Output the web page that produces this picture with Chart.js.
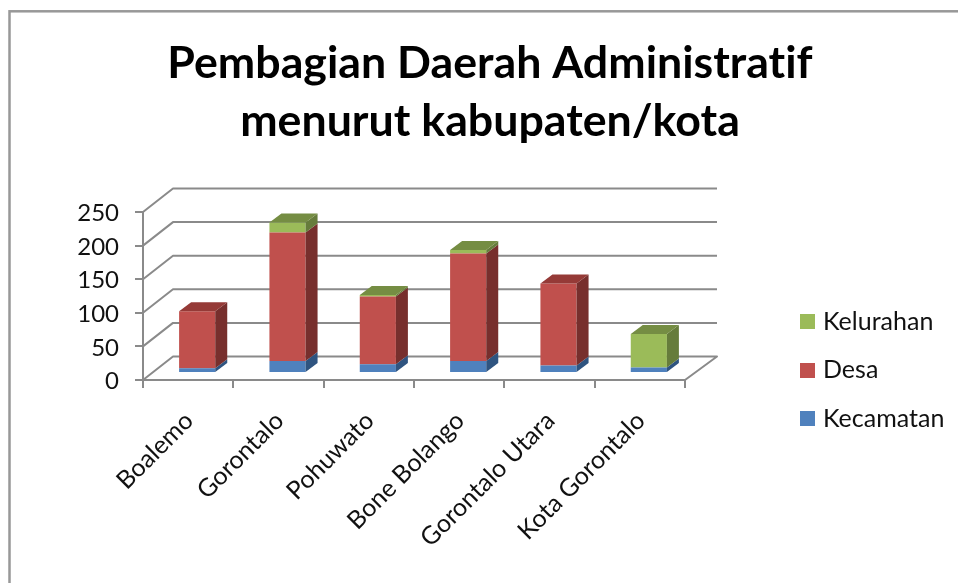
<!DOCTYPE html>
<html><head><meta charset="utf-8">
<style>html,body{margin:0;padding:0;background:#fff}canvas{display:block}</style>
<script src="https://cdn.jsdelivr.net/npm/chart.js@4"></script>
</head><body><canvas id="c" width="958" height="583"></canvas>
<script>
const categories = ['Boalemo','Gorontalo','Pohuwato','Bone Bolango','Gorontalo Utara','Kota Gorontalo'];
const kecamatan = [7,18,13,18,11,8];
const desa = [85,191,101,160,122,0];
const kelurahan = [0,15,2,5,0,50];
const titleLines = ['Pembagian Daerah Administratif','menurut kabupaten/kota'];
const yTickStep = 50, yMax = 250;

const FRONT = {blue:'#4F81BD', red:'#C0504D', green:'#9BBB59'};
const SIDE = {blue:'#2F5480', red:'#772F2D', green:'#667C3B'};
const TOP = {blue:'#3A6595', red:'#953A37', green:'#758D43'};
const FONT = 'Lato, Carlito, "Open Sans", sans-serif';
const GRID = '#8a8a8a';
const keys = ['blue','red','green'];

function swatch(color){
  const s = document.createElement('canvas'); s.width = 15; s.height = 15;
  const x = s.getContext('2d'); x.fillStyle = color; x.fillRect(0,0,15,15);
  return s;
}

const box3d = {
  id:'box3d',
  beforeInit(chart){
    const fit = chart.legend.fit;
    chart.legend.fit = function(){ fit.call(this); this.width = 273; };
  },
  afterLayout(chart){
    const lg = chart.legend, p = lg.options.labels.padding;
    lg.left = 823 - p - lg.options.labels.pointStyleWidth - lg.options.labels.font.size / 2;
    lg.top = 321.5 - p - lg.options.labels.font.size / 2;
  },
  beforeDraw(chart){
    const c = chart.ctx;
    c.letterSpacing = '0.01px';
    c.save();
    c.strokeStyle = '#989898'; c.lineWidth = 2.5;
    c.strokeRect(9.5, 11.3, 2000, 2000);
    c.restore();
  },
  beforeDatasetsDraw(chart){
    const c = chart.ctx, a = chart.chartArea, y = chart.scales.y;
    c.save();
    c.strokeStyle = GRID; c.lineWidth = 2; c.lineJoin = 'round';
    y.ticks.forEach(t => {
      const py = y.getPixelForValue(t.value);
      c.beginPath();
      c.moveTo(a.left, py);
      c.lineTo(a.left + 30, py - 23.5);
      c.lineTo(a.right + 32, py - 23.5);
      if (t.value === 0) c.lineTo(a.right, py);
      c.stroke();
    });
    c.restore();
    c.save();
    c.translate(9, -7);
  },
  afterDatasetsDraw(chart){
    const c = chart.ctx, dx = 12, dy = -9;
    const n = chart.data.labels.length;
    for (let i = 0; i < n; i++) {
      let topEl = null, topKey = null;
      chart.data.datasets.forEach((ds, k) => {
        const el = chart.getDatasetMeta(k).data[i];
        if (!ds.data[i]) return;
        const r = el.x + el.width / 2;
        c.fillStyle = SIDE[keys[k]];
        c.beginPath();
        c.moveTo(r, el.y); c.lineTo(r + dx, el.y + dy);
        c.lineTo(r + dx, el.base + dy); c.lineTo(r, el.base);
        c.closePath(); c.fill();
        topEl = el; topKey = keys[k];
      });
      if (topEl) {
        const l = topEl.x - topEl.width / 2, r = topEl.x + topEl.width / 2, t = topEl.y;
        c.fillStyle = TOP[topKey];
        c.beginPath();
        c.moveTo(l, t); c.lineTo(l + dx, t + dy);
        c.lineTo(r + dx, t + dy); c.lineTo(r, t);
        c.closePath(); c.fill();
      }
    }
    c.restore();
  }
};

new Chart(document.getElementById('c'), {
  type:'bar',
  data:{
    labels:categories,
    datasets:[
      {label:'Kecamatan', data:kecamatan, backgroundColor:FRONT.blue},
      {label:'Desa', data:desa, backgroundColor:FRONT.red},
      {label:'Kelurahan', data:kelurahan, backgroundColor:FRONT.green}
    ]
  },
  options:{
    responsive:false, animation:false,
    barPercentage:0.4, categoryPercentage:1,
    layout:{padding:{left:22,right:0,top:0,bottom:0}},
    plugins:{
      tooltip:{enabled:false},
      title:{display:true, text:titleLines, color:'#000',
        font:{family:FONT, size:44.7, weight:'bold', lineHeight:58/44.7},
        padding:{top:34.5,bottom:61.5}},
      legend:{position:'right', align:'start', reverse:true,
        labels:{
          color:'#111', font:{family:FONT,size:25}, padding:23.5,
          usePointStyle:true, pointStyleWidth:7,
          generateLabels(chart){
            const items = Chart.defaults.plugins.legend.labels.generateLabels(chart);
            items.forEach((it, i) => { it.pointStyle = swatch(FRONT[keys[i]]); });
            return items;
          }
        }}
    },
    scales:{
      x:{stacked:true,
        afterFit(s){ s.height = 203; },
        grid:{drawOnChartArea:false, color:GRID, lineWidth:2, tickLength:8},
        border:{color:GRID, width:2},
        ticks:{color:'#111', font:{family:FONT,size:25}, minRotation:45, maxRotation:45, autoSkip:false, padding:18, labelOffset:1}
      },
      y:{stacked:true, min:0, max:yMax,
        afterFit(s){ s.width = 121; },
        grid:{drawOnChartArea:false, color:GRID, lineWidth:2, tickLength:8},
        border:{color:GRID, width:2},
        ticks:{color:'#111', font:{family:FONT,size:24}, stepSize:yTickStep, padding:16, labelOffset:1.5}
      }
    }
  },
  plugins:[box3d]
});
</script></body></html>
